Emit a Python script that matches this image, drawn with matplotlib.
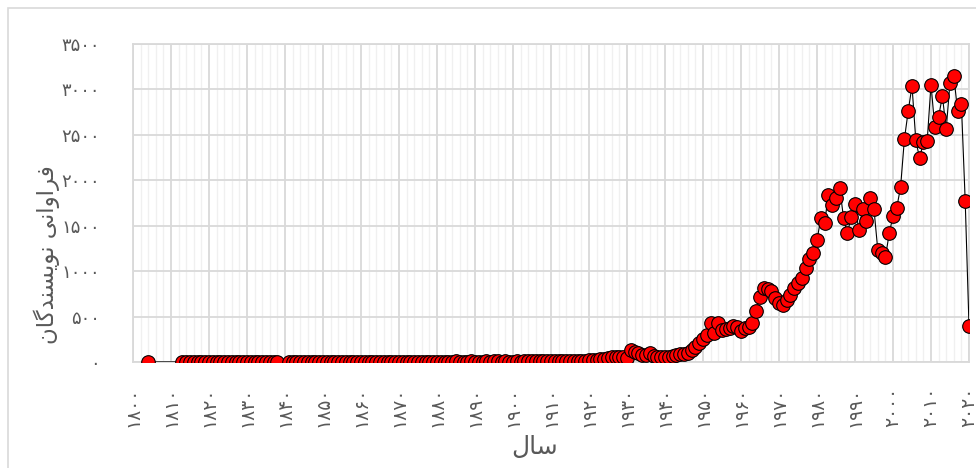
import matplotlib
matplotlib.use("Agg")
import matplotlib.pyplot as plt
from matplotlib.patches import Rectangle

plt.rcParams["font.family"] = "DejaVu Sans"

# ── Data (yearly author counts) ───────────────────────────────────────────────
years_a = [1804] + list(range(1813, 1839))
vals_a = [1,
          1, 2, 1, 3, 2, 1, 2, 3, 2, 1, 2, 2, 3, 1, 2, 3, 2, 4, 2, 1, 2, 3, 2, 2, 3, 4]

years_b = list(range(1841, 1900))
vals_b = [2, 3, 2, 1, 2, 3, 2, 2, 1, 3, 2, 3, 4, 2, 3, 2, 3, 4, 3, 2,
          3, 4, 3, 2, 3, 4, 5, 3, 4, 3, 4, 5, 4, 3, 4, 5, 3, 4, 5, 4,
          3, 5, 4, 5, 6, 4, 5, 4, 6, 5, 4, 5, 6, 5, 6, 7, 5, 6, 5]

years_c = list(range(1900, 1950))
vals_c = [5, 6, 5, 7, 6, 8, 7, 9, 8, 10,
          12, 11, 14, 13, 10, 9, 11, 10, 13, 16,
          20, 22, 25, 30, 38, 45, 52, 55, 50, 52,
          40, 130, 105, 95, 80, 77, 96, 70, 58, 52,
          50, 58, 70, 77, 88, 90, 100, 132, 168, 205]

years_d = list(range(1950, 2021))
vals_d = [250, 300, 425, 322, 432, 352, 359, 370, 400, 388,
          344, 370, 388, 432, 561, 718, 810, 799, 784, 700,
          645, 627, 682, 737, 810, 865, 920, 1030, 1129, 1195,
          1342, 1580, 1532, 1837, 1727, 1800, 1910, 1580, 1415, 1600,
          1738, 1452, 1679, 1554, 1810, 1679, 1232, 1202, 1152, 1415,
          1606, 1700, 1928, 2453, 2761, 3039, 2442, 2240, 2424, 2434,
          3054, 2582, 2699, 2926, 2563, 3073, 3150, 2761, 2835, 1774, 400]

years = years_a + years_b + years_c + years_d
values = vals_a + vals_b + vals_c + vals_d

x_ticks = list(range(1800, 2021, 10))
y_ticks = list(range(0, 3501, 500))

Y_LABEL = "فراوانی نویسندگان"
X_LABEL = "سال"

# ── minimal Persian shaping (matplotlib has no text shaping) ─────────────────
FORMS = {  # isolated, final, initial, medial
    "ف": ("\uFED1", "\uFED2", "\uFED3", "\uFED4"),
    "ر": ("\uFEAD", "\uFEAE", None, None),
    "ا": ("\uFE8D", "\uFE8E", None, None),
    "و": ("\uFEED", "\uFEEE", None, None),
    "ن": ("\uFEE5", "\uFEE6", "\uFEE7", "\uFEE8"),
    "ی": ("\uFBFC", "\uFBFD", "\uFEF3", "\uFEF4"),
    "س": ("\uFEB1", "\uFEB2", "\uFEB3", "\uFEB4"),
    "د": ("\uFEA9", "\uFEAA", None, None),
    "گ": ("\uFB92", "\uFB93", "\uFB94", "\uFB95"),
    "ل": ("\uFEDD", "\uFEDE", "\uFEDF", "\uFEE0"),
}


def shape_fa(text):
    out = []
    for i, ch in enumerate(text):
        if ch not in FORMS:
            out.append(ch)
            continue
        prev = text[i - 1] if i > 0 else ""
        nxt = text[i + 1] if i + 1 < len(text) else ""
        joins_prev = prev in FORMS and FORMS[prev][2] is not None
        joins_next = nxt in FORMS and FORMS[ch][2] is not None
        iso, fin, ini, med = FORMS[ch]
        if joins_prev and joins_next:
            out.append(med)
        elif joins_prev:
            out.append(fin)
        elif joins_next:
            out.append(ini)
        else:
            out.append(iso)
    return "".join(out)[::-1]


def fa_digits(n):
    return str(n).translate(str.maketrans("0123456789", "۰۱۲۳۴۵۶۷۸۹"))


# ── Figure ───────────────────────────────────────────────────────────────────
W, H = 976, 468
fig = plt.figure(figsize=(W / 100, H / 100), dpi=100)
ax = fig.add_axes([133 / W, 1 - 362 / H, (969 - 133) / W, (362 - 44) / H])

# chart border
fig.patches.append(Rectangle((8 / W, -0.1), 1.2, 1.1 - 8 / H, transform=fig.transFigure,
                             fill=False, edgecolor="#d9d9d9", linewidth=1.2))

ax.plot(years, values, color="black", linewidth=0.8, marker="o", markersize=9.8,
        markerfacecolor="red", markeredgecolor="black", markeredgewidth=0.8, zorder=3)

ax.set_xlim(1800, 2020)
ax.set_ylim(0, 3500)
ax.set_xticks(x_ticks)
ax.set_xticks(range(1800, 2021, 2), minor=True)
ax.set_yticks(y_ticks)
ax.set_xticklabels([fa_digits(v) for v in x_ticks], rotation=90)
ax.set_yticklabels([fa_digits(v) for v in y_ticks])
ax.tick_params(which="both", length=0, labelcolor="#595959")
ax.tick_params(axis="x", pad=18, labelsize=13.5)
ax.tick_params(axis="y", pad=24, labelsize=13)

ax.grid(which="major", axis="both", color="#d9d9d9", linewidth=1.3, zorder=0)
ax.grid(which="minor", axis="x", color="#f0f0f0", linewidth=1.0, zorder=0)
ax.set_axisbelow(True)
for s in ax.spines.values():
    s.set_color("#d9d9d9")
    s.set_linewidth(1.3)

fig.text(47 / W, 1 - 255 / H, shape_fa(Y_LABEL), rotation=90, ha="center", va="center",
         fontsize=16.5, color="#595959")
fig.text(535 / W, 1 - 447 / H, shape_fa(X_LABEL), ha="center", va="center",
         fontsize=18, color="#595959")

fig.savefig("out.png", dpi=100)
